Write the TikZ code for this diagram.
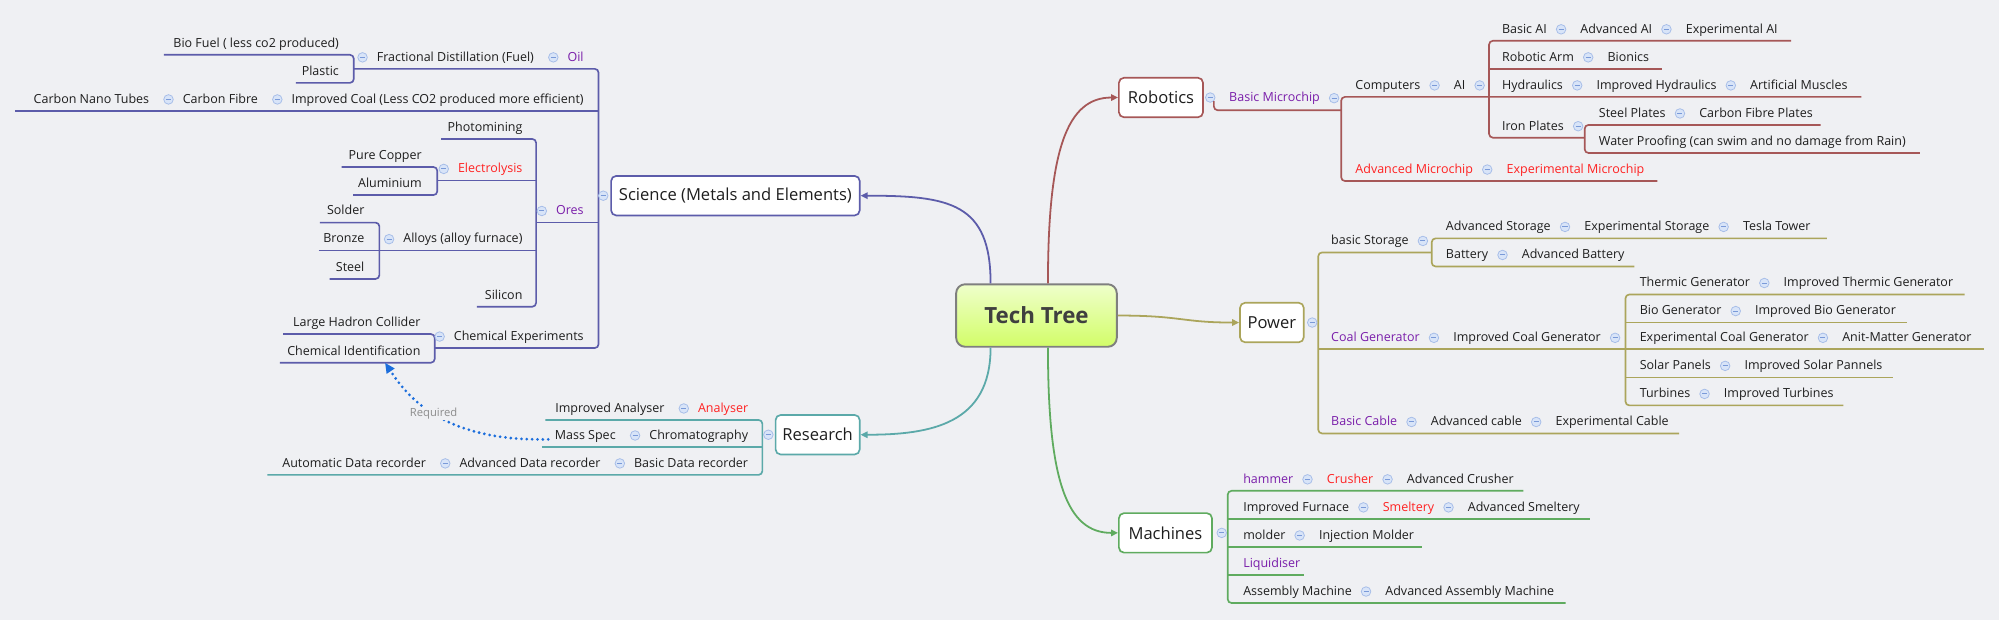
\documentclass[tikz,border=0pt]{standalone}
\usepackage{fontspec}
\setmainfont{Open Sans}
\usetikzlibrary{positioning,calc,arrows.meta}

\definecolor{bg}{HTML}{EFF0F3}
\definecolor{ink}{HTML}{1E1E1E}
\definecolor{purp}{HTML}{7A1EAA}
\definecolor{alert}{HTML}{FF2222}
\definecolor{robc}{HTML}{A65757}
\definecolor{powc}{HTML}{ABA55B}
\definecolor{macc}{HTML}{5FAB5F}
\definecolor{scic}{HTML}{5C5CAA}
\definecolor{resc}{HTML}{5BA9A9}
\definecolor{foldedge}{HTML}{A6BDE8}
\definecolor{foldfill}{HTML}{D8E4F8}
\definecolor{foldbar}{HTML}{7A9AD8}
\definecolor{reqblue}{HTML}{1C6EDC}
\definecolor{reqgray}{HTML}{8C8C8C}
\definecolor{rootedge}{HTML}{7F7F7F}
\definecolor{roottop}{HTML}{EFFFCB}
\definecolor{rootbot}{HTML}{D2FD68}
\definecolor{rootink}{HTML}{3F3F3F}

\newcommand{\topicfont}{\fontsize{9.8}{11}\selectfont}
\newcommand{\branchfont}{\fontsize{13}{15}\selectfont}
\newcommand{\reqfont}{\fontsize{8.8}{10}\selectfont}

\tikzset{
    topic/.style = {anchor=base west, inner sep=0pt, text=ink, font=\topicfont},
    ltopic/.style = {topic, anchor=base east},
    fold/.style = {circle, draw=foldedge, fill=foldfill, line width=0.6pt,
        minimum size=7.5pt, inner sep=0pt,
        path picture={\draw[foldbar, line width=0.8pt]
            ([xshift=-2pt]path picture bounding box.center) --
            ([xshift=2pt]path picture bounding box.center);}},
    branch/.style = {draw=#1, line width=1.3pt, fill=white, rounded corners=4pt,
        minimum height=31pt, inner sep=0pt, text=ink, font=\branchfont},
    root/.style = {draw=rootedge, line width=1.5pt, rounded corners=7pt,
        top color=roottop, bottom color=rootbot, minimum width=126pt,
        minimum height=49pt, text=rootink, font=\bfseries\fontsize{17.5}{20}\selectfont},
    tree/.style = {draw=#1, line width=1.3pt, rounded corners=3pt},
    link/.style = {draw=#1, line width=1.4pt, -{Triangle[length=5.5pt,width=5pt]}},
    required/.style = {draw=reqblue, line width=2.4pt, line cap=round,
        dash pattern=on 0pt off 4.2pt, -{Triangle[length=8pt,width=7pt]}},
    reqlabel/.style = {fill=bg, inner sep=1pt, text=reqgray, font=\reqfont}
}

% row of topics reading rightwards, first one starts at #1
\newcommand{\rowR}[3]{%
    \foreach \cl/\tx [count=\i] in {#3}{%
        \ifnum\i=1
            \node[topic, text=\cl] (#2-1) at ([yshift=-2pt]#1) {\tx};
        \else
            \pgfmathtruncatemacro{\j}{\i-1}
            \node[fold] (#2-f\j) at ([xshift=11pt,yshift=3pt]#2-\j.base east) {};
            \node[topic, text=\cl] (#2-\i) at ([xshift=15pt,yshift=-3pt]#2-f\j.center) {\tx};
        \fi
    }}
% row of topics reading leftwards, first one ends at #1
\newcommand{\rowL}[3]{%
    \foreach \cl/\tx [count=\i] in {#3}{%
        \ifnum\i=1
            \node[ltopic, text=\cl] (#2-1) at ([yshift=-2pt]#1) {\tx};
        \else
            \pgfmathtruncatemacro{\j}{\i-1}
            \node[fold] (#2-f\j) at ([xshift=-11pt,yshift=3pt]#2-\j.base west) {};
            \node[ltopic, text=\cl] (#2-\i) at ([xshift=-15pt,yshift=-3pt]#2-f\j.center) {\tx};
        \fi
    }}
\newcommand{\foldR}[2]{\node[fold] (#2) at ([xshift=11pt,yshift=3pt]#1.base east) {};}
\newcommand{\foldL}[2]{\node[fold] (#2) at ([xshift=-11pt,yshift=3pt]#1.base west) {};}

\begin{document}
\begin{tikzpicture}[x=1pt, y=-1pt]
    \path[use as bounding box, fill=bg] (0,0) rectangle (1568,486);

    % tree lines
    \draw[tree=robc] (1460,76) -- (1052,76) -- (1052,142) -- (1300,142);
    \draw[tree=robc] (1405,32) -- (1168,32) -- (1168,108) -- (1243,108);
    \draw[tree=robc] (1168,54) -- (1304,54);
    \draw[tree=robc] (1428,98) -- (1243,98) -- (1243,120) -- (1506,120);

    \draw[tree=powc] (1123,198) -- (1034,198) -- (1034,340) -- (1317,340);
    \draw[tree=powc] (1034,274) -- (1275,274);
    \draw[tree=powc] (1433,187) -- (1123,187) -- (1123,209) -- (1282,209);
    \draw[tree=powc] (1541,231) -- (1275,231) -- (1275,318) -- (1446,318);
    \draw[tree=powc] (1275,253) -- (1496,253);
    \draw[tree=powc] (1275,274) -- (1556,274);
    \draw[tree=powc] (1275,296) -- (1485,296);

    \draw[tree=macc] (1195,385) -- (963,385) -- (963,473) -- (1228,473);
    \draw[tree=macc] (963,407) -- (1247,407);
    \draw[tree=macc] (963,429) -- (1115,429);
    \draw[tree=macc] (963,451) -- (1023,451);

    \draw[tree=scic] (277.5,54) -- (469.5,54) -- (469.5,273) -- (341,273);
    \draw[tree=scic] (12,87) -- (469.5,87);
    \draw[tree=scic] (420.5,174.5) -- (469.5,174.5);
    \draw[tree=scic] (128.5,43) -- (277.5,43) -- (277.5,65) -- (232,65);
    \draw[tree=scic] (346,109) -- (420.5,109) -- (420.5,240.6) -- (374,240.6);
    \draw[tree=scic] (343,141.5) -- (420.5,141.5);
    \draw[tree=scic] (297.6,196.6) -- (420.5,196.6);
    \draw[tree=scic] (268,131) -- (343,131) -- (343,153) -- (277,153);
    \draw[tree=scic] (251,174.6) -- (297.6,174.6) -- (297.6,218.8) -- (258.6,218.8);
    \draw[tree=scic] (250,196.6) -- (297.6,196.6);
    \draw[tree=scic] (222,262) -- (341,262) -- (341,284.5) -- (219.6,284.5);

    \draw[tree=resc] (427.8,329.4) -- (598,329.4) -- (598,372.5) -- (209.7,372.5);
    \draw[tree=resc] (425,350.6) -- (598,350.6);

    % centre and main topics
    \node[root] (tt) at (813,247.5) {Tech Tree};
    \node[branch=robc, minimum width=66pt, anchor=west] (rob) at (877,76.5) {Robotics};
    \node[branch=powc, minimum width=50pt, anchor=west] (pow) at (972,253) {Power};
    \node[branch=macc, minimum width=73pt, anchor=west] (mac) at (877,418) {Machines};
    \node[branch=scic, minimum width=195pt, anchor=east] (sci) at (675,153.5) {Science (Metals and Elements)};
    \node[branch=resc, minimum width=66pt, anchor=east] (res) at (675,341) {Research};
    \node[fold] (rob-f) at ([xshift=5pt]rob.east) {};
    \node[fold] (pow-f) at ([xshift=6pt]pow.east) {};
    \node[fold] (mac-f) at ([xshift=7pt]mac.east) {};
    \node[fold] (sci-f) at ([xshift=-5.5pt]sci.west) {};
    \node[fold] (res-f) at ([xshift=-5pt]res.west) {};
    \draw[tree=robc] (rob-f.south east) |- (1052,86.5);
    \draw[tree=macc] (mac-f.east) -- (963,418);

    \draw[link=robc] ([xshift=9pt]tt.north) .. controls +(0,-105) and +(-40,0) .. (rob.west);
    \draw[link=powc] (tt.east) .. controls +(50,0) and +(-45,0) .. (pow.west);
    \draw[link=macc] ([xshift=9pt]tt.south) .. controls +(0,105) and +(-40,0) .. (mac.west);
    \draw[link=scic] ([xshift=-36pt]tt.north) .. controls +(0,-63) and +(70,0) .. (sci.east);
    \draw[link=resc] ([xshift=-36pt]tt.south) .. controls +(0,60) and +(55,0) .. (res.east);

    % Robotics
    \rowR{964,78}{bm}{purp/Basic Microchip}
    \foldR{bm-1}{bm-e}
    \rowR{1063,68}{cmp}{ink/Computers,ink/AI}
    \foldR{cmp-2}{cmp-e}
    \rowR{1178,24}{ai1}{ink/Basic AI,ink/Advanced AI,ink/Experimental AI}
    \rowR{1178,46}{ai2}{ink/Robotic Arm,ink/Bionics}
    \rowR{1178,68}{ai3}{ink/Hydraulics,ink/Improved Hydraulics,ink/Artificial Muscles}
    \rowR{1178,100}{ai4}{ink/Iron Plates}
    \foldR{ai4-1}{ai4-e}
    \rowR{1254,90}{ip1}{ink/Steel Plates,ink/Carbon Fibre Plates}
    \rowR{1254,112}{ip2}{ink/Water Proofing (can swim and no damage from Rain)}
    \rowR{1063,134}{amc}{alert/Advanced Microchip,alert/Experimental Microchip}

    % Power
    \rowR{1044,190}{bs}{ink/basic Storage}
    \foldR{bs-1}{bs-e}
    \rowR{1134,179}{st1}{ink/Advanced Storage,ink/Experimental Storage,ink/Tesla Tower}
    \rowR{1134,201}{st2}{ink/Battery,ink/Advanced Battery}
    \rowR{1044,266}{cg}{purp/Coal Generator,ink/Improved Coal Generator}
    \foldR{cg-2}{cg-e}
    \rowR{1286,223}{cg1}{ink/Thermic Generator,ink/Improved Thermic Generator}
    \rowR{1286,245}{cg2}{ink/Bio Generator,ink/Improved Bio Generator}
    \rowR{1286,266}{cg3}{ink/Experimental Coal Generator,ink/Anit-Matter Generator}
    \rowR{1286,288}{cg4}{ink/Solar Panels,ink/Improved Solar Pannels}
    \rowR{1286,310}{cg5}{ink/Turbines,ink/Improved Turbines}
    \rowR{1044,332}{bc}{purp/Basic Cable,ink/Advanced cable,ink/Experimental Cable}

    % Machines
    \rowR{975,377}{m1}{purp/hammer,alert/Crusher,ink/Advanced Crusher}
    \rowR{975,399}{m2}{ink/Improved Furnace,alert/Smeltery,ink/Advanced Smeltery}
    \rowR{975,421}{m3}{ink/molder,ink/Injection Molder}
    \rowR{975,443}{m4}{purp/Liquidiser}
    \rowR{975,465}{m5}{ink/Assembly Machine,ink/Advanced Assembly Machine}

    % Science
    \rowL{458,46}{oil}{purp/Oil,ink/Fractional Distillation (Fuel)}
    \foldL{oil-2}{oil-e}
    \rowL{266,35}{fd1}{ink/Bio Fuel ( less co2 produced)}
    \rowL{266,57}{fd2}{ink/Plastic}
    \rowL{458,79}{coal}{ink/Improved Coal (Less CO2 produced more efficient),ink/Carbon Fibre,ink/Carbon Nano Tubes}
    \rowL{458,166.5}{ores}{purp/Ores}
    \foldL{ores-1}{ores-e}
    \rowL{410,101}{or1}{ink/Photomining}
    \rowL{410,133.5}{or2}{alert/Electrolysis}
    \foldL{or2-1}{or2-e}
    \rowL{331,123}{el1}{ink/Pure Copper}
    \rowL{331,145}{el2}{ink/Aluminium}
    \rowL{410,188.6}{or3}{ink/Alloys (alloy furnace)}
    \foldL{or3-1}{or3-e}
    \rowL{286,166.6}{al1}{ink/Solder}
    \rowL{286,188.6}{al2}{ink/Bronze}
    \rowL{286,210.8}{al3}{ink/Steel}
    \rowL{410,232.6}{or4}{ink/Silicon}
    \rowL{458,265}{chem}{ink/Chemical Experiments}
    \foldL{chem-1}{chem-e}
    \rowL{330,254}{ce1}{ink/Large Hadron Collider}
    \rowL{330,276.5}{ce2}{ink/Chemical Identification}

    % Research
    \rowL{587,321.4}{r1}{alert/Analyser,ink/Improved Analyser}
    \rowL{587,342.6}{r2}{ink/Chromatography,ink/Mass Spec}
    \rowL{587,364.5}{r3}{ink/Basic Data recorder,ink/Advanced Data recorder,ink/Automatic Data recorder}

    % relationship
    \draw[required] ([xshift=-5pt]r2-2.base west) .. controls +(-85,2) and +(16,24) ..
        ([shift={(-28pt,-6pt)}]ce2-1.base east) node[reqlabel, pos=0.5] {Required};
\end{tikzpicture}
\end{document}
